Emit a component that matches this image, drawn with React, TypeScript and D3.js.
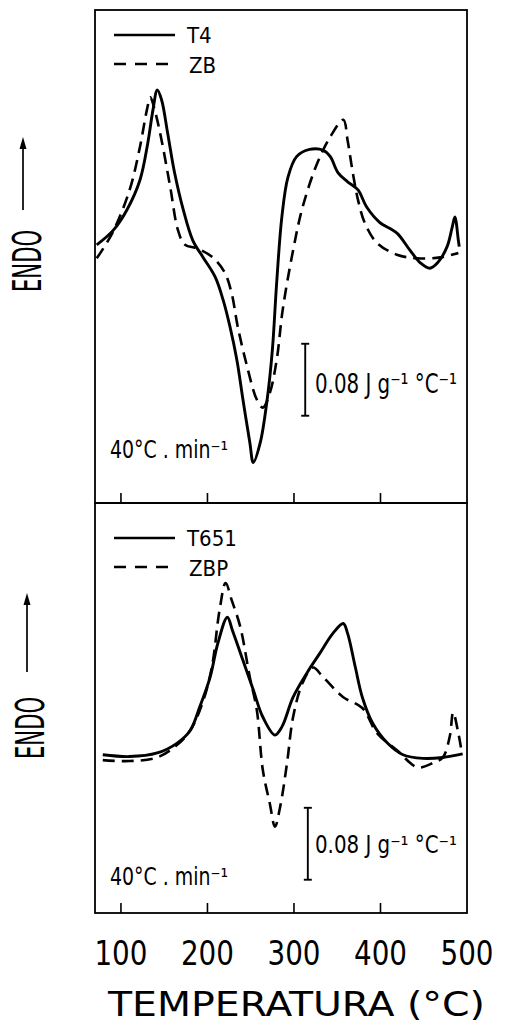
import React from 'react';
import * as d3 from 'd3';

// temperature (°C) vs relative heat flow (mJ g-1 °C-1)
const t4: [number, number][] = [
  [72, 28], [91, 44], [107, 67], [122, 100], [131, 141], [137, 178], [142, 200],
  [147, 189], [154, 152], [162, 108], [172, 67], [183, 33], [195, 14], [209, -8],
  [218, -33], [226, -63], [234, -100], [241, -144], [249, -192], [253, -214],
  [261, -192], [269, -144], [275, -89], [280, -14], [286, 59], [293, 103],
  [303, 126], [318, 134], [334, 133], [342, 126], [351, 108], [362, 98], [374, 89],
  [384, 70], [399, 53], [419, 41], [434, 22], [446, 8], [457, 2], [466, 8],
  [477, 26], [483, 48], [486, 59], [490, 33], [491, 26]
];
const zb: [number, number][] = [
  [72, 13], [90, 41], [110, 89], [122, 137], [130, 178], [134, 192], [139, 178],
  [147, 144], [157, 92], [166, 44], [174, 28], [188, 24], [206, 14], [220, -3],
  [228, -26], [235, -63], [246, -108], [257, -144], [264, -153], [272, -137],
  [280, -100], [287, -44], [299, 22], [310, 70], [327, 119], [342, 148], [357, 167],
  [362, 144], [368, 108], [374, 78], [382, 52], [396, 30], [419, 17], [442, 13],
  [469, 14], [490, 19]
];
const t651: [number, number][] = [
  [79, 6], [110, 4], [142, 8], [165, 19], [180, 33], [191, 59], [203, 92],
  [212, 130], [223, 159], [229, 144], [241, 111], [253, 78], [264, 48], [278, 28],
  [286, 37], [299, 70], [315, 97], [330, 119], [345, 141], [357, 152], [362, 141],
  [371, 103], [379, 70], [391, 41], [408, 19], [426, 6], [449, 2], [472, 3], [495, 7]
];
const zbp: [number, number][] = [
  [79, 0], [110, -1], [142, 3], [165, 17], [180, 33], [194, 63], [205, 103],
  [214, 167], [221, 197], [228, 178], [238, 148], [249, 92], [257, 56], [264, -11],
  [272, -48], [278, -74], [284, -52], [292, -3], [299, 48], [310, 86], [322, 103],
  [334, 92], [357, 70], [379, 58], [396, 30], [419, 11], [443, -8], [461, -3],
  [472, 3], [480, 26], [484, 53], [490, 30], [493, 14]
];

const tempTicks = [100, 200, 300, 400];
const tempLabels = [100, 200, 300, 400, 500];
const upperNames = ['T4', 'ZB'];
const lowerNames = ['T651', 'ZBP'];
const scaleBarValue = 80; // 0.08 J g-1 °C-1
const rateLabel = '40°C . min⁻¹';
const barLabel = '0.08 J g⁻¹ °C⁻¹';

const font = '"DejaVu Sans Condensed", "DejaVu Sans", sans-serif';

const x = d3.scaleLinear().domain([70, 500]).range([95, 467]);

const panels = [
  {
    names: upperNames, series: [t4, zb],
    y: d3.scaleLinear().domain([-259, 289]).range([503, 10]),
    barT: 313, barTop: -82, legendY: 35, labelY: 393, rateY: 458,
    arrowX: 23, arrowTop: 137, arrowBot: 210, endoX: 27, endoY: 261,
    labelSize: 26
  },
  {
    names: lowerNames, series: [t651, zbp],
    y: d3.scaleLinear().domain([-170, 286]).range([913, 503]),
    barT: 316, barTop: -53, legendY: 538, labelY: 853, rateY: 885,
    arrowX: 27, arrowTop: 593, arrowBot: 672, endoX: 30, endoY: 728,
    labelSize: 24
  }
];

export default function App() {
  return (
    <svg width={506} height={1026} style={{ position: 'absolute', left: 0, top: 0, background: '#fff' }}
         fontFamily={font}>
      {panels.map((p, i) => {
        const line = d3.line<[number, number]>()
          .x(d => x(d[0]))
          .y(d => p.y(d[1]))
          .curve(d3.curveCatmullRom.alpha(0.5));
        const [yb, yt] = [p.y.range()[0], p.y.range()[1]];
        return (
          <g key={i}>
            <rect x={x(70)} y={yt} width={x(500) - x(70)} height={yb - yt}
                  fill="none" stroke="#000" strokeWidth={1.8} />
            {tempTicks.map(t => (
              <line key={t} x1={x(t)} x2={x(t)} y1={yb} y2={yb - 10} stroke="#000" strokeWidth={1.6} />
            ))}
            <path d={line(p.series[0]) || ''} fill="none" stroke="#000" strokeWidth={2.9} />
            <path d={line(p.series[1]) || ''} fill="none" stroke="#000" strokeWidth={2.6}
                  strokeDasharray="12,7" />
            {/* legend */}
            <line x1={114} x2={175} y1={p.legendY} y2={p.legendY} stroke="#000" strokeWidth={2.4} />
            <line x1={114} x2={175} y1={p.legendY + 29} y2={p.legendY + 29} stroke="#000"
                  strokeWidth={2.4} strokeDasharray="12,9" />
            <text x={187} y={p.legendY + 8} fontSize={22}>{p.names[0]}</text>
            <text x={189} y={p.legendY + 38} fontSize={22}>{p.names[1]}</text>
            {/* scale bar */}
            <g stroke="#000" strokeWidth={1.9}>
              <line x1={x(p.barT)} x2={x(p.barT)} y1={p.y(p.barTop)} y2={p.y(p.barTop - scaleBarValue)} />
              <line x1={x(p.barT) - 4} x2={x(p.barT) + 4} y1={p.y(p.barTop)} y2={p.y(p.barTop)} />
              <line x1={x(p.barT) - 4} x2={x(p.barT) + 4} y1={p.y(p.barTop - scaleBarValue)}
                    y2={p.y(p.barTop - scaleBarValue)} />
            </g>
            <text x={315} y={p.labelY} fontSize={p.labelSize} textLength={142}
                  lengthAdjust="spacingAndGlyphs">{barLabel}</text>
            <text x={110} y={p.rateY} fontSize={24} textLength={118}
                  lengthAdjust="spacingAndGlyphs">{rateLabel}</text>
            {/* ENDO arrow */}
            <line x1={p.arrowX} x2={p.arrowX} y1={p.arrowBot} y2={p.arrowTop + 4} stroke="#000" strokeWidth={1.7} />
            <path d={`M${p.arrowX},${p.arrowTop} L${p.arrowX - 3.5},${p.arrowTop + 12} L${p.arrowX + 3.5},${p.arrowTop + 12} Z`}
                  fill="#000" />
            <text transform={`translate(${p.endoX + 14},${p.endoY}) rotate(-90)`} textAnchor="middle"
                  fontSize={39} textLength={62} lengthAdjust="spacingAndGlyphs">ENDO</text>
          </g>
        );
      })}
      {tempLabels.map(t => (
        <text key={t} x={x(t)} y={965} textAnchor="middle" fontSize={33} textLength={53}
              lengthAdjust="spacingAndGlyphs">{t}</text>
      ))}
      <text x={108} y={1016} fontSize={34} textLength={377} lengthAdjust="spacingAndGlyphs">
        TEMPERATURA (°C)
      </text>
    </svg>
  );
}
